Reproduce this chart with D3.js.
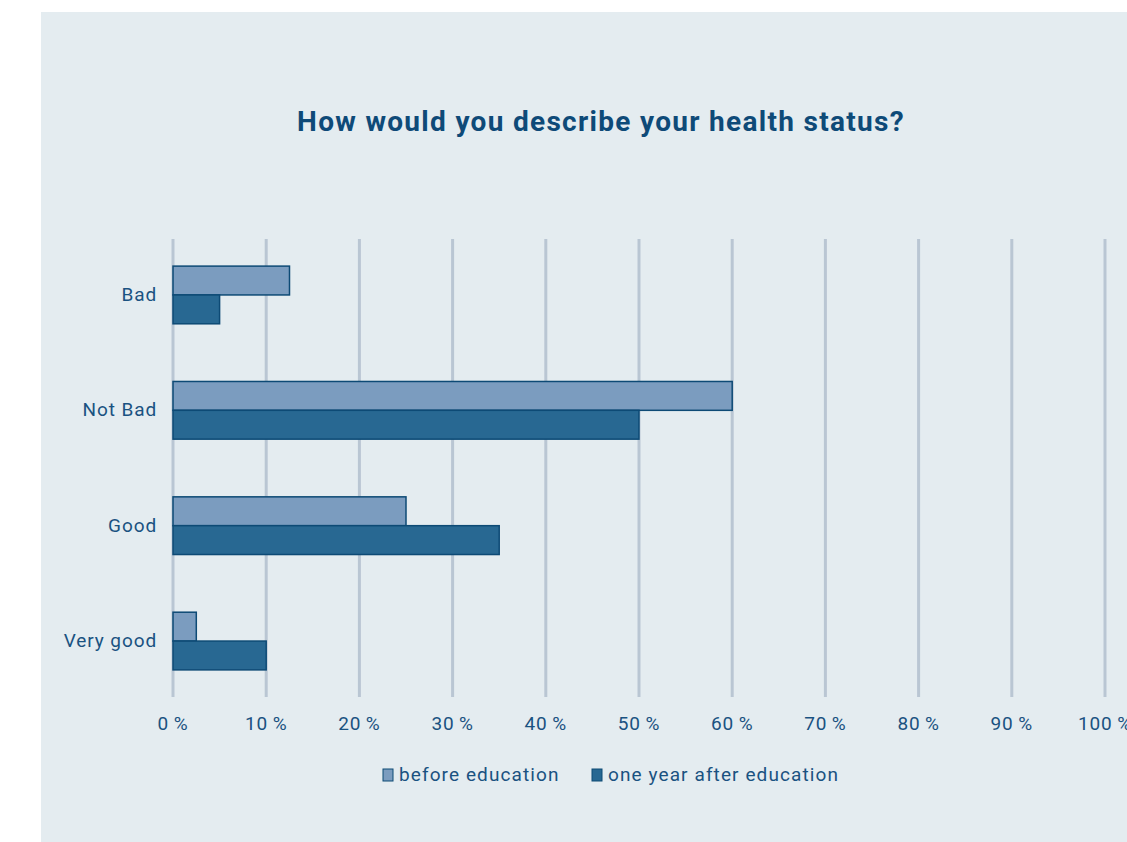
<!DOCTYPE html>
<html>
<head>
<meta charset="utf-8">
<script src="https://cdn.jsdelivr.net/npm/d3@7"></script>
<style>
  body { margin: 0; background: #fff; }
  svg { display: block; font-family: "Roboto", "DejaVu Sans", sans-serif; }
</style>
</head>
<body>
<svg width="1127" height="842"></svg>
<script>
// chart data
const categories = ['Bad', 'Not Bad', 'Good', 'Very good'];
const seriesNames = ['before education', 'one year after education'];
const beforeValues = [12.5, 60, 25, 2.5];
const afterValues = [5, 50, 35, 10];
const tickValues = [0, 10, 20, 30, 40, 50, 60, 70, 80, 90, 100];

const svg = d3.select('svg');

// panel background
svg.append('rect')
  .attr('x', 41).attr('y', 12)
  .attr('width', 1127 - 41).attr('height', 842 - 12)
  .attr('fill', '#e4ecf0');

svg.append('text')
  .attr('x', 601).attr('y', 131)
  .attr('text-anchor', 'middle')
  .attr('font-size', 28)
  .attr('font-weight', 'bold')
  .attr('letter-spacing', 1.3)
  .attr('fill', '#0e4a78')
  .text('How would you describe your health status?');

const x = d3.scaleLinear().domain([0, 100]).range([173, 1105]);
const y = d3.scaleBand().domain(categories).range([239, 697]).paddingInner(0.5).paddingOuter(0.235);
const ySub = d3.scaleBand().domain(seriesNames).range([0, y.bandwidth()]);

// gridlines
svg.selectAll('line.grid')
  .data(tickValues)
  .enter()
  .append('line')
  .attr('class', 'grid')
  .attr('x1', d => x(d)).attr('x2', d => x(d))
  .attr('y1', 239).attr('y2', 697)
  .attr('stroke', '#b9c6d3')
  .attr('stroke-width', 3);

// tick labels
svg.selectAll('text.tick')
  .data(tickValues)
  .enter()
  .append('text')
  .attr('class', 'tick')
  .attr('x', d => x(d))
  .attr('y', 730)
  .attr('text-anchor', 'middle')
  .attr('font-size', 19)
  .attr('letter-spacing', 0.8)
  .attr('fill', '#1a5281')
  .text(d => d + '\u2009%');

// category labels
svg.selectAll('text.cat')
  .data(categories)
  .enter()
  .append('text')
  .attr('class', 'cat')
  .attr('x', 157)
  .attr('y', d => y(d) + y.bandwidth() / 2 + 6)
  .attr('text-anchor', 'end')
  .attr('font-size', 19)
  .attr('letter-spacing', 0.9)
  .attr('fill', '#1a5281')
  .text(d => d);

const colors = ['#7b9cbf', '#286892'];
const series = [beforeValues, afterValues];

series.forEach((vals, i) => {
  svg.selectAll('rect.s' + i)
    .data(vals)
    .enter()
    .append('rect')
    .attr('class', 's' + i)
    .attr('x', x(0))
    .attr('y', (d, j) => y(categories[j]) + ySub(seriesNames[i]))
    .attr('width', d => x(d) - x(0))
    .attr('height', ySub.bandwidth())
    .attr('fill', colors[i])
    .attr('stroke', '#0d4a75')
    .attr('stroke-width', 1.5);
});

// legend
const legendX = [383, 592];
seriesNames.forEach((name, i) => {
  svg.append('rect')
    .attr('x', legendX[i]).attr('y', 769)
    .attr('width', 10).attr('height', 12)
    .attr('fill', colors[i])
    .attr('stroke', '#0d4a75')
    .attr('stroke-width', 1);
  svg.append('text')
    .attr('x', legendX[i] + 16).attr('y', 781)
    .attr('font-size', 19)
    .attr('letter-spacing', 1.1)
    .attr('fill', '#1a5281')
    .text(name);
});
</script>
</body>
</html>
